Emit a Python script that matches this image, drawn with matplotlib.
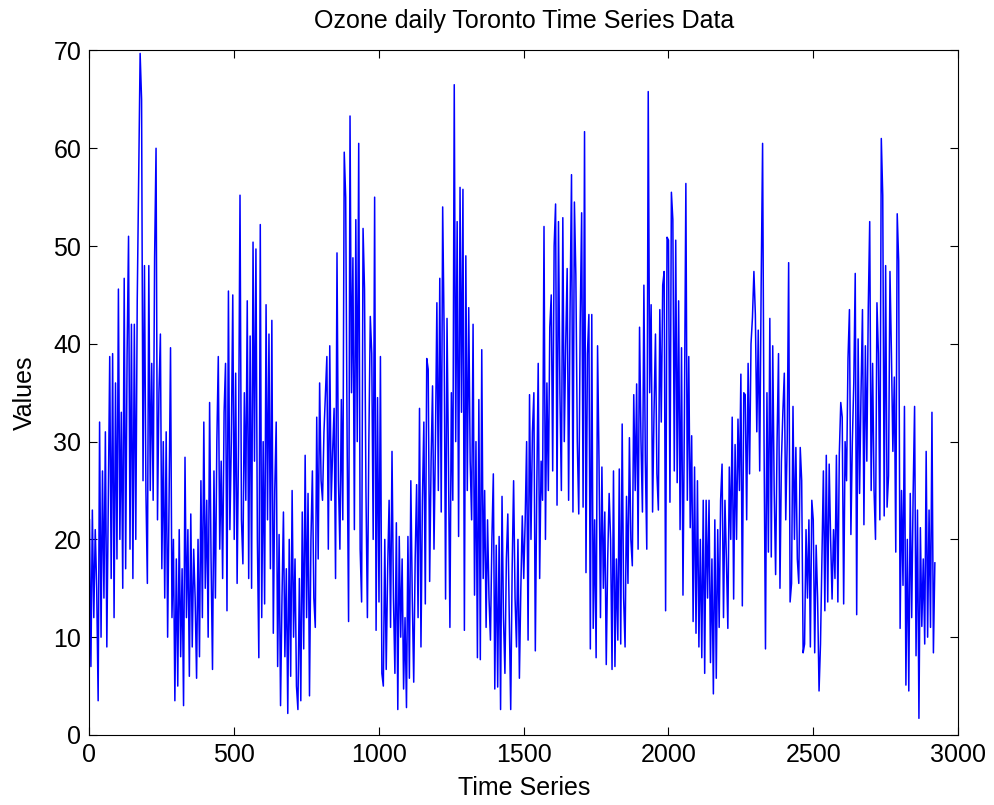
import numpy as np
import matplotlib
matplotlib.use("Agg")
import matplotlib.pyplot as plt

sample_step = 5
ozone = [
    22, 7, 23, 12, 21, 15, 3.5, 32, 10, 27,
    14, 31, 9, 24, 38.7, 16, 39, 12, 36, 18,
    45.6, 20, 33, 15, 46.7, 17, 39, 51, 19, 42,
    16, 42, 20, 44.4, 56.6, 69.7, 65, 26, 48, 25,
    15.5, 48, 25, 38, 24, 48.8, 60, 22, 35, 41,
    17, 30, 14, 31, 10, 24, 39.6, 12, 20, 3.5,
    18, 5, 21, 8, 17, 3, 28.4, 12, 21, 6,
    22.6, 9, 19, 14, 5.8, 20, 8, 26, 12, 32,
    15, 24, 10, 34, 18, 6.7, 27, 14, 30, 38.7,
    19, 28, 16, 33, 38, 12.7, 45.4, 21, 30, 45,
    20, 37, 15.5, 30, 55.2, 22, 17.5, 35, 24, 44.4,
    16, 40.8, 15, 50.4, 28, 49.7, 20, 7.9, 52.2, 12,
    30, 13.4, 44, 22, 41, 17, 42.4, 10.4, 25, 32,
    7, 20.5, 3, 14, 22.8, 8, 17, 2.2, 20, 6,
    25, 10, 18, 5, 2.6, 16, 3.5, 22.8, 8.8, 28.6,
    12, 24.7, 4, 20, 27, 14, 11, 32.5, 18, 36,
    26, 24, 31, 35, 38.7, 19, 39.8, 24, 29, 33.4,
    16, 49.3, 26, 19, 34.3, 22, 59.6, 55, 30, 11.6,
    63.3, 35, 48.8, 21, 52.7, 30, 60.5, 19, 13.6, 51.8,
    45.6, 25, 12, 30, 42.8, 39, 20, 55, 10.7, 34.5,
    13.6, 38.7, 6.3, 5, 20, 6.7, 17, 24, 11, 29,
    14, 6.3, 21.7, 2.6, 20.3, 10, 18, 4.7, 12, 2.8,
    20.3, 5.8, 26, 14, 5.4, 18, 25.6, 12, 33.4, 9,
    24, 32, 13.4, 38.5, 37.4, 15.7, 28, 35.7, 19, 30,
    44.2, 25, 46.7, 22.8, 54, 41.2, 13.9, 42.6, 28, 11,
    35, 24, 66.5, 30, 52.5, 20.3, 56, 33, 55.8, 10.7,
    49, 25, 43.7, 28, 22, 42, 14.3, 30, 7.9, 34.3,
    7.7, 39.4, 16, 25, 11, 22, 14, 9.7, 20, 26.7,
    4.7, 19.4, 4.9, 20.3, 2.6, 24.4, 12, 6.3, 18, 22.6,
    12, 2.6, 17, 26, 14, 9, 20, 5.8, 15, 22.4,
    16, 22, 30, 9.7, 34.8, 20, 31, 35, 8.6, 25,
    38, 16, 28, 24, 52, 20, 36, 25, 41.7, 45,
    27, 50, 54.3, 23.5, 52.5, 35, 25, 52.9, 30, 40,
    47.7, 24, 43.5, 57.3, 22.8, 54.5, 47, 30, 22.6, 42.1,
    53.4, 23.3, 61.7, 16.6, 39, 43, 8.8, 43, 10.9, 22,
    7.9, 39.8, 28, 12, 27.4, 15, 22.8, 7.2, 18, 24.7,
    20, 6.7, 27, 7, 18, 9.7, 27.2, 9.3, 31.8, 14,
    9, 24.4, 15.5, 30.4, 20, 17.3, 34.8, 25, 35.9, 19,
    41.7, 30, 22.8, 46, 28, 19, 65.8, 35, 44, 22.8,
    33, 41, 26.7, 23, 43.5, 32, 46, 47.4, 12.7, 50.9,
    50.6, 23.8, 55.5, 52.7, 27, 50.6, 25.8, 44.4, 21, 39.6,
    14.3, 32.7, 56.4, 24, 38.7, 21.2, 30.6, 11.6, 27.4, 10.4,
    26, 9, 20, 7.9, 24, 6.3, 24, 14, 24, 7.4,
    18, 4.2, 22, 5.8, 21, 11, 24, 27.7, 12, 24,
    18, 10.9, 27.4, 20, 32.5, 13.9, 29.7, 20, 32.3, 25,
    36.9, 13.2, 35, 34.8, 22, 38, 26.7, 40, 42.7, 47.4,
    43, 31, 41.4, 27, 45.8, 60.5, 30, 8.8, 35, 18.7,
    42.6, 18.2, 39.8, 25, 16.4, 30, 39, 15, 28, 33,
    37, 22, 30, 48.3, 13.6, 15.5, 33.6, 20, 29.4, 18,
    15.5, 29.4, 26, 8.4, 9.3, 21, 14, 22, 9, 24,
    22, 8.4, 19.4, 14, 4.5, 9.3, 18, 27, 12.7, 28.6,
    13.6, 27.7, 20, 13.9, 21, 16, 28.6, 13.6, 28.8, 34,
    32.5, 13.4, 30, 26, 38.5, 43.5, 20.5, 30, 36, 47.2,
    12.3, 40.5, 24.7, 35, 43.5, 21.5, 39.8, 28, 43.7, 52.5,
    25, 38, 25, 20, 44.2, 39, 22, 61, 55.2, 22.4,
    48, 23.3, 26.5, 47.4, 39, 29, 36.6, 18.7, 53.3, 48.5,
    10.9, 25, 15.3, 33.6, 5.1, 20, 4.5, 24.7, 12, 24.7,
    33.6, 8.1, 23, 1.7, 21.2, 11.1, 18, 9.3, 29, 10,
    23, 11, 33, 8.4, 17.6,
]
days = np.arange(len(ozone)) * sample_step

x_ticks = [0, 500, 1000, 1500, 2000, 2500, 3000]
y_ticks = [0, 10, 20, 30, 40, 50, 60, 70]

plt.rcParams['font.family'] = ['Liberation Sans', 'DejaVu Sans']

fig = plt.figure(figsize=(9.94, 8.05), dpi=100)
ax = fig.add_axes([0.090, 0.087, 0.8738, 0.8503])
ax.plot(days, ozone, color=(0, 0, 1), linewidth=1.1)

ax.set_xlim(0, 3000)
ax.set_ylim(0, 70)
ax.set_xticks(x_ticks)
ax.set_yticks(y_ticks)
ax.tick_params(direction='in', length=6, width=0.8, top=True, right=True,
               labelsize=18, pad=6)
for s in ax.spines.values():
    s.set_linewidth(0.8)

ax.set_title('Ozone daily Toronto Time Series Data', fontsize=18, pad=16)
ax.set_xlabel('Time Series', fontsize=18, labelpad=6)
ax.set_ylabel('Values', fontsize=18, labelpad=12)

fig.savefig('out.png', dpi=100)
